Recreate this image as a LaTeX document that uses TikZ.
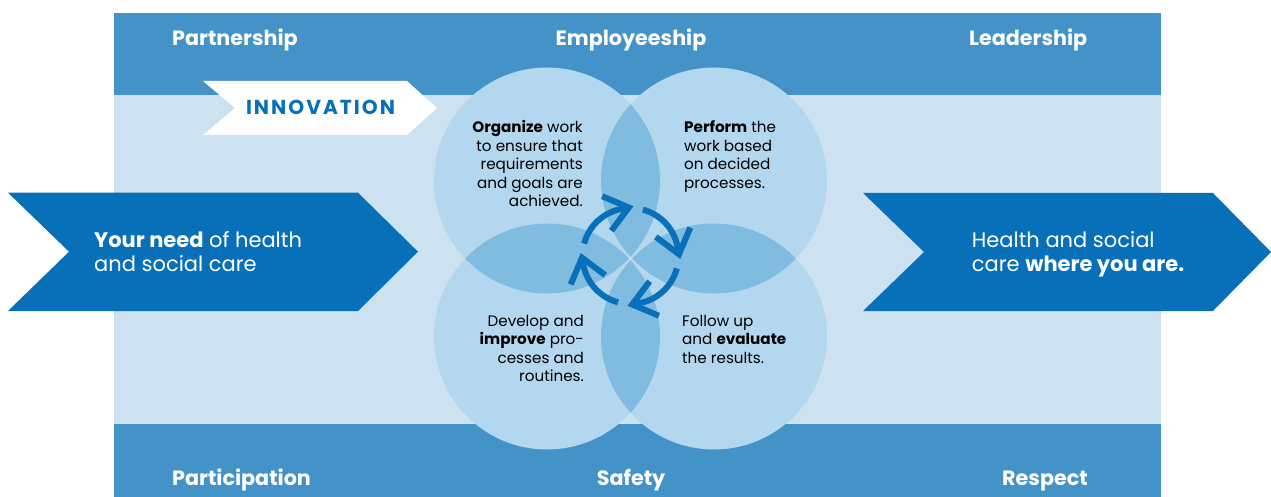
\documentclass[tikz,border=0pt]{standalone}
\usepackage{fontspec}
\setmainfont{Poppins}
\newfontfamily\spaced[LetterSpace=10]{Poppins}
\definecolor{band}{HTML}{4393C9}
\definecolor{bglight}{HTML}{CCE2F0}
\definecolor{circ}{HTML}{B3D7EE}
\definecolor{ovl}{HTML}{80BBE0}
\definecolor{dblue}{HTML}{0770B8}
\tikzset{
  lab/.style={text=white, font=\bfseries\fontsize{20.7}{24}\selectfont, inner sep=0pt},
  arrtext/.style={text=white, font=\fontsize{21}{23.7}\selectfont, inner sep=0pt, align=left},
  body/.style={text=black, font=\fontsize{15.2}{18.5}\selectfont, inner sep=0pt},
  cycl/.style={draw=dblue, line width=6pt},
  chev/.style={draw=dblue, line width=6pt, line join=miter, line cap=butt},
}
\begin{document}
\begin{tikzpicture}[x=1pt,y=1pt]
\useasboundingbox (0,0) rectangle (1271,-497);
% background bands
\fill[bglight] (114,-95) rectangle (1161,-424);
\fill[band] (114,-13) rectangle (1161,-95);
\fill[band] (114,-424) rectangle (1161,-497);
% circle centres
\coordinate (tl) at (547,-180.5);
\coordinate (tr) at (714,-180.5);
\coordinate (bl) at (547,-336.5);
\coordinate (br) at (714,-336.5);
\coordinate (cc) at (630.5,-256);
\foreach \c in {tl,tr,bl,br} \fill[circ] (\c) circle (113);
\begin{scope}\clip (tl) circle (113); \fill[ovl] (tr) circle (113); \end{scope}
\begin{scope}\clip (tl) circle (113); \fill[ovl] (bl) circle (113); \end{scope}
\begin{scope}\clip (br) circle (113); \fill[ovl] (tr) circle (113); \end{scope}
\begin{scope}\clip (br) circle (113); \fill[ovl] (bl) circle (113); \end{scope}
% big arrows
\fill[dblue] (8,-192.7) -- (358,-192.7) -- (418,-251.7) -- (358,-311) -- (8,-311) -- (69,-251.7) -- cycle;
\fill[dblue] (863,-193) -- (1213,-193) -- (1271,-252) -- (1213,-311) -- (863,-311) -- (924,-252) -- cycle;
\fill[white] (203,-81) -- (407,-81) -- (437,-108) -- (407,-135) -- (203,-135) -- (235,-108) -- cycle;
% cycle arrows: arc plus open chevron head
\foreach \s in {165,75,-15,-105} {
  \pgfmathsetmacro\e{\s-73}
  \pgfmathsetmacro\d{\e-77}
  \draw[cycl] ([shift={(\s:48)}]cc) arc[start angle=\s, end angle=\e, radius=48];
  \draw[chev] ([shift={(\e:48.5)}]cc) ++(\d+142:29) -- ++(\d-38:29) -- ++(\d-142:29);
}
% band labels
\node[lab, anchor=base west] (partner) at (172,-45.7) {Partnership};
\node[lab, anchor=base] (employ) at (631,-45.7) {Employeeship};
\node[lab, anchor=base west] (leader) at (969,-45.7) {Leadership};
\node[lab, anchor=base west] (partic) at (172,-485) {Participation};
\node[lab, anchor=base] (safety) at (631,-485) {Safety};
\node[lab, anchor=base west] (respect) at (1002,-485) {Respect};
\node[text=dblue, font=\spaced\bfseries\fontsize{20.2}{22}\selectfont, inner sep=0pt, anchor=base] (innov) at (320.5,-114.5) {INNOVATION};
% arrow texts (base = last line)
\node[arrtext, anchor=base west] (need) at (94,-271) {\textbf{Your need} of health\\and social care};
\node[arrtext, anchor=base west] (where) at (971.7,-271) {Health and social\\care \textbf{where you are.}};
% circle texts (base = last line)
\node[body, align=right, anchor=base east] (org) at (583,-206.7) {\textbf{Organize} work\\to ensure that\\requirements\\and goals are\\achieved.};
\node[body, align=left, anchor=base west] (perf) at (684,-188.3) {\textbf{Perform} the\\work based\\on decided\\processes.};
\node[body, align=right, anchor=base east] (dev) at (584,-381.7) {Develop and\\\textbf{improve} pro-\\cesses and\\routines.};
\node[body, align=left, anchor=base west] (fol) at (682,-363.3) {Follow up\\and \textbf{evaluate}\\the results.};
\end{tikzpicture}
\end{document}
